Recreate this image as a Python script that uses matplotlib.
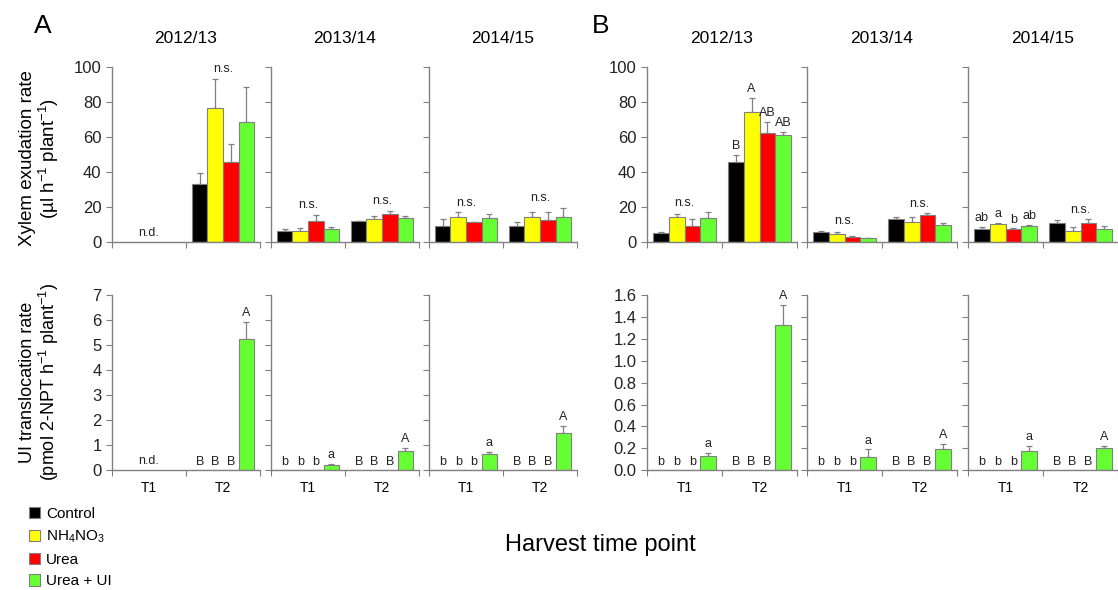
import numpy as np
import matplotlib.pyplot as plt
from matplotlib.patches import Patch

plt.rcParams['font.family'] = 'Liberation Sans'
plt.rcParams['mathtext.fontset'] = 'custom'
plt.rcParams['mathtext.rm'] = 'Liberation Sans'
plt.rcParams['mathtext.it'] = 'Liberation Sans:italic'

nan = np.nan

seasons = ['2012/13', '2013/14', '2014/15']
harvests = ['T1', 'T2']
treatments = ['Control', r'NH$_4$NO$_3$', 'Urea', 'Urea + UI']
colors = ['#000000', '#ffff00', '#ff0000', '#66ff33']

# values are [season][harvest][treatment]; err is the upper error bar only
xyl_a_mean = [
    [[nan, nan, nan, nan], [33.0, 76.7, 45.5, 68.3]],
    [[6.2, 6.2, 12.1, 7.7], [11.7, 12.9, 16.2, 13.8]],
    [[9.2, 14.0, 11.3, 13.5], [9.0, 14.4, 12.3, 14.4]],
]
xyl_a_err = [
    [[nan, nan, nan, nan], [6.3, 16.3, 10.3, 19.9]],
    [[1.3, 1.9, 3.5, 1.1], [0.4, 1.9, 1.7, 1.2]],
    [[4.1, 2.9, 0.2, 2.3], [2.5, 2.5, 5.0, 5.2]],
]
xyl_a_lab = [['n.d.', 'n.s.'], ['n.s.', 'n.s.'], ['n.s.', 'n.s.']]

ui_a_mean = [
    [[nan, nan, nan, nan], [0, 0, 0, 5.23]],
    [[0, 0, 0, 0.20], [0, 0, 0, 0.77]],
    [[0, 0, 0, 0.65], [0, 0, 0, 1.49]],
]
ui_a_err = [
    [[nan, nan, nan, nan], [0, 0, 0, 0.71]],
    [[0, 0, 0, 0.07], [0, 0, 0, 0.13]],
    [[0, 0, 0, 0.10], [0, 0, 0, 0.29]],
]
ui_a_lab = [['n.d.', ['B', 'B', 'B', 'A']],
            [['b', 'b', 'b', 'a'], ['B', 'B', 'B', 'A']],
            [['b', 'b', 'b', 'a'], ['B', 'B', 'B', 'A']]]

xyl_b_mean = [
    [[5.4, 14.1, 9.4, 13.6], [45.7, 74.2, 62.0, 61.0]],
    [[5.7, 4.5, 3.1, 2.2], [12.9, 11.2, 15.5, 9.6]],
    [[7.6, 10.4, 7.5, 9.2], [10.6, 6.3, 10.8, 7.6]],
]
xyl_b_err = [
    [[0.3, 1.9, 3.6, 3.4], [4.0, 8.0, 6.3, 1.9]],
    [[0.6, 1.2, 0.6, 0.3], [1.2, 2.9, 1.0, 1.0]],
    [[0.8, 0.4, 0.3, 0.4], [2.1, 2.3, 2.3, 1.6]],
]
xyl_b_lab = [['n.s.', ['B', 'A', 'AB', 'AB']],
             ['n.s.', 'n.s.'],
             [['ab', 'a', 'b', 'ab'], 'n.s.']]

ui_b_mean = [
    [[0, 0, 0, 0.13], [0, 0, 0, 1.33]],
    [[0, 0, 0, 0.125], [0, 0, 0, 0.19]],
    [[0, 0, 0, 0.18], [0, 0, 0, 0.20]],
]
ui_b_err = [
    [[0, 0, 0, 0.03], [0, 0, 0, 0.18]],
    [[0, 0, 0, 0.065], [0, 0, 0, 0.05]],
    [[0, 0, 0, 0.045], [0, 0, 0, 0.025]],
]
ui_b_lab = [[['b', 'b', 'b', 'a'], ['B', 'B', 'B', 'A']]] * 3

W, H = 1118, 590
GRAY = '#808080'
BW = 0.21

fig = plt.figure(figsize=(W / 100, H / 100), dpi=100)


def add_ax(left, top, width, height):
    return fig.add_axes([left / W, 1 - (top + height) / H, width / W, height / H])


def draw_panel(ax, mean, err, lab, ymax, yticks, first, bottom, fmt=None):
    for g in range(2):
        centre = g + 0.5
        xs = [centre + (i - 1.5) * BW for i in range(4)]
        m = mean[g]
        e = err[g]
        for i in range(4):
            if np.isnan(m[i]):
                continue
            ax.bar(xs[i], m[i], width=BW, color=colors[i], edgecolor=GRAY,
                   linewidth=0.8, zorder=2)
            if e[i] > 0:
                ax.errorbar(xs[i], m[i], yerr=[[0], [e[i]]], fmt='none',
                            ecolor=GRAY, elinewidth=0.9, capsize=2,
                            capthick=0.9, zorder=1)
        text = lab[g]
        if isinstance(text, str):
            tops = [0 if np.isnan(a) else a + b for a, b in zip(m, e)]
            ax.annotate(text, (centre, max(tops)), xytext=(0, 2.5),
                        textcoords='offset points', ha='center', va='bottom',
                        fontsize=9, color='#222222')
        else:
            for i in range(4):
                ax.annotate(text[i], (xs[i], m[i] + e[i]), xytext=(0, 2),
                            textcoords='offset points', ha='center',
                            va='bottom', fontsize=9, color='#222222')

    ax.set_xlim(0, 2)
    ax.set_ylim(0, ymax)
    ax.set_xticks([0, 1, 2])
    ax.set_xticklabels([])
    ax.set_yticks(yticks)
    if first:
        if fmt:
            ax.set_yticklabels([fmt % t for t in yticks])
    else:
        ax.set_yticklabels([])
    if bottom:
        ax.set_xticks([0.5, 1.5], minor=True)
        ax.set_xticklabels(harvests, minor=True)
        ax.tick_params(axis='x', which='minor', length=0, pad=8, labelsize=10)
    for s in ['top', 'right']:
        ax.spines[s].set_visible(False)
    for s in ['left', 'bottom']:
        ax.spines[s].set_color(GRAY)
        ax.spines[s].set_linewidth(1.0)
    ax.tick_params(axis='both', which='major', direction='out', length=4,
                   color=GRAY, labelsize=12, labelcolor='#222222')
    ax.set_facecolor('none')


a_left = [112, 271, 429]
b_left = [647, 807, 968]
top_row, bot_row, row_h = 66.7, 295, 175.3

for k in range(3):
    ax = add_ax(a_left[k], top_row, 148, row_h)
    draw_panel(ax, xyl_a_mean[k], xyl_a_err[k], xyl_a_lab[k], 100,
               range(0, 101, 20), k == 0, False)
    ax.set_title(seasons[k], fontsize=12.5, pad=17)
    ax = add_ax(a_left[k], bot_row, 148, row_h)
    draw_panel(ax, ui_a_mean[k], ui_a_err[k], ui_a_lab[k], 7,
               range(0, 8), k == 0, True)

    ax = add_ax(b_left[k], top_row, 150, row_h)
    draw_panel(ax, xyl_b_mean[k], xyl_b_err[k], xyl_b_lab[k], 100,
               range(0, 101, 20), k == 0, False)
    ax.set_title(seasons[k], fontsize=12.5, pad=17)
    ax = add_ax(b_left[k], bot_row, 150, row_h)
    draw_panel(ax, ui_b_mean[k], ui_b_err[k], ui_b_lab[k], 1.6,
               np.arange(0, 1.61, 0.2), k == 0, True, fmt='%.1f')

fig.text(43 / W, 1 - 26 / H, 'A', fontsize=19, ha='center', va='center')
fig.text(601 / W, 1 - 26 / H, 'B', fontsize=19, ha='center', va='center')

fig.text(40 / W, 1 - 158 / H,
         'Xylem exudation rate\n'
         r'(µl h$\mathregular{^{-1}}$ plant$\mathregular{^{-1}}$)',
         rotation=90, ha='center', va='center', fontsize=13.5,
         linespacing=1.1, multialignment='center')
fig.text(40 / W, 1 - 382 / H,
         'UI translocation rate\n'
         r'(pmol 2-NPT h$\mathregular{^{-1}}$ plant$\mathregular{^{-1}}$)',
         rotation=90, ha='center', va='center', fontsize=13,
         linespacing=1.1, multialignment='center')

fig.text(600 / W, 1 - 545 / H, 'Harvest time point', fontsize=17,
         ha='center', va='center')

handles = [Patch(facecolor=c, edgecolor=GRAY, linewidth=0.8) for c in colors]
fig.legend(handles, treatments, loc='upper left',
           bbox_to_anchor=(29 / W, 1 - 507 / H), frameon=False, fontsize=11,
           handlelength=0.75, handleheight=0.75, handletextpad=0.35,
           labelspacing=0.5, borderaxespad=0, borderpad=0)

fig.savefig('out.png', dpi=100)
